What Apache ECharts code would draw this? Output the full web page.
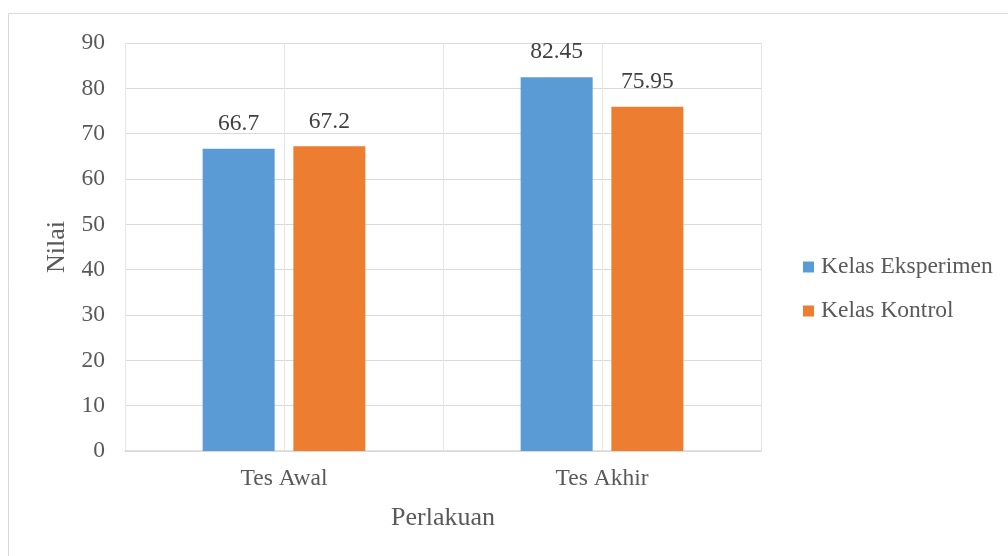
<!DOCTYPE html>
<html>
<head>
<meta charset="utf-8">
<script src="https://cdn.jsdelivr.net/npm/echarts@6/dist/echarts.min.js"></script>
<style>
html,body{margin:0;padding:0;background:#fff;}
#c{width:1008px;height:556px;}
</style>
</head>
<body>
<div id="c"></div>
<script>
var categories = ['Tes Awal', 'Tes Akhir'];
var seriesNames = ['Kelas Eksperimen', 'Kelas Kontrol'];
var eksperimen = [66.7, 82.45];
var kontrol = [67.2, 75.95];
var yTicks = [0, 10, 20, 30, 40, 50, 60, 70, 80, 90];

var FONT = '"Liberation Serif", "Times New Roman", serif';
var chart = echarts.init(document.getElementById('c'), null, {renderer: 'canvas'});

var labelStyle = {
  show: true, position: 'top', distance: 13,
  fontFamily: FONT, fontSize: 23.5, color: '#404040'
};

chart.setOption({
  animation: false,
  backgroundColor: '#fff',
  textStyle: {fontFamily: FONT},
  graphic: [{
    type: 'rect',
    shape: {x: 8.5, y: 13.5, width: 1020, height: 560},
    style: {fill: 'none', stroke: '#d9d9d9', lineWidth: 1},
    silent: true, z: -10
  }],
  grid: {left: 125, right: 247, top: 43, bottom: 105, containLabel: false},
  legend: {
    orient: 'vertical', left: 798, top: 250,
    icon: 'rect', itemWidth: 11, itemHeight: 11, itemGap: 20,
    data: seriesNames,
    textStyle: {fontFamily: FONT, fontSize: 23.5, color: '#595959', lineHeight: 24, padding: [0, 0, 0, 2]}
  },
  xAxis: [{
    type: 'category',
    data: categories,
    axisLine: {show: true, lineStyle: {color: '#d9d9d9', width: 1.5}},
    axisTick: {show: false},
    splitLine: {show: false},
    axisLabel: {fontFamily: FONT, fontSize: 23.5, color: '#595959', margin: 16},
    name: 'Perlakuan',
    nameLocation: 'middle',
    nameGap: 54,
    nameTextStyle: {fontFamily: FONT, fontSize: 26, color: '#595959', verticalAlign: 'top'}
  }, {
    type: 'category',
    data: ['', '', '', ''],
    position: 'bottom',
    axisLine: {show: false},
    axisTick: {show: false},
    axisLabel: {show: false},
    splitLine: {show: true, interval: 0, lineStyle: {color: '#e6e6e6', width: 1}}
  }],
  yAxis: {
    type: 'value',
    min: yTicks[0], max: yTicks[yTicks.length - 1], interval: 10,
    axisLine: {show: false},
    axisTick: {show: false},
    splitLine: {show: true, lineStyle: {color: '#d9d9d9', width: 1}},
    axisLabel: {fontFamily: FONT, fontSize: 23.5, color: '#595959', margin: 20},
    name: 'Nilai',
    nameLocation: 'middle',
    nameGap: 54,
    nameRotate: 90,
    nameTextStyle: {fontFamily: FONT, fontSize: 26, color: '#595959'}
  },
  series: [{
    name: seriesNames[0], type: 'bar', xAxisIndex: 0,
    data: eksperimen, barWidth: 72, barGap: '26%',
    itemStyle: {color: '#5B9BD5'},
    label: labelStyle
  }, {
    name: seriesNames[1], type: 'bar', xAxisIndex: 0,
    data: kontrol, barWidth: 72, barGap: '26%',
    itemStyle: {color: '#ED7D31'},
    label: labelStyle
  }]
});
</script>
</body>
</html>
